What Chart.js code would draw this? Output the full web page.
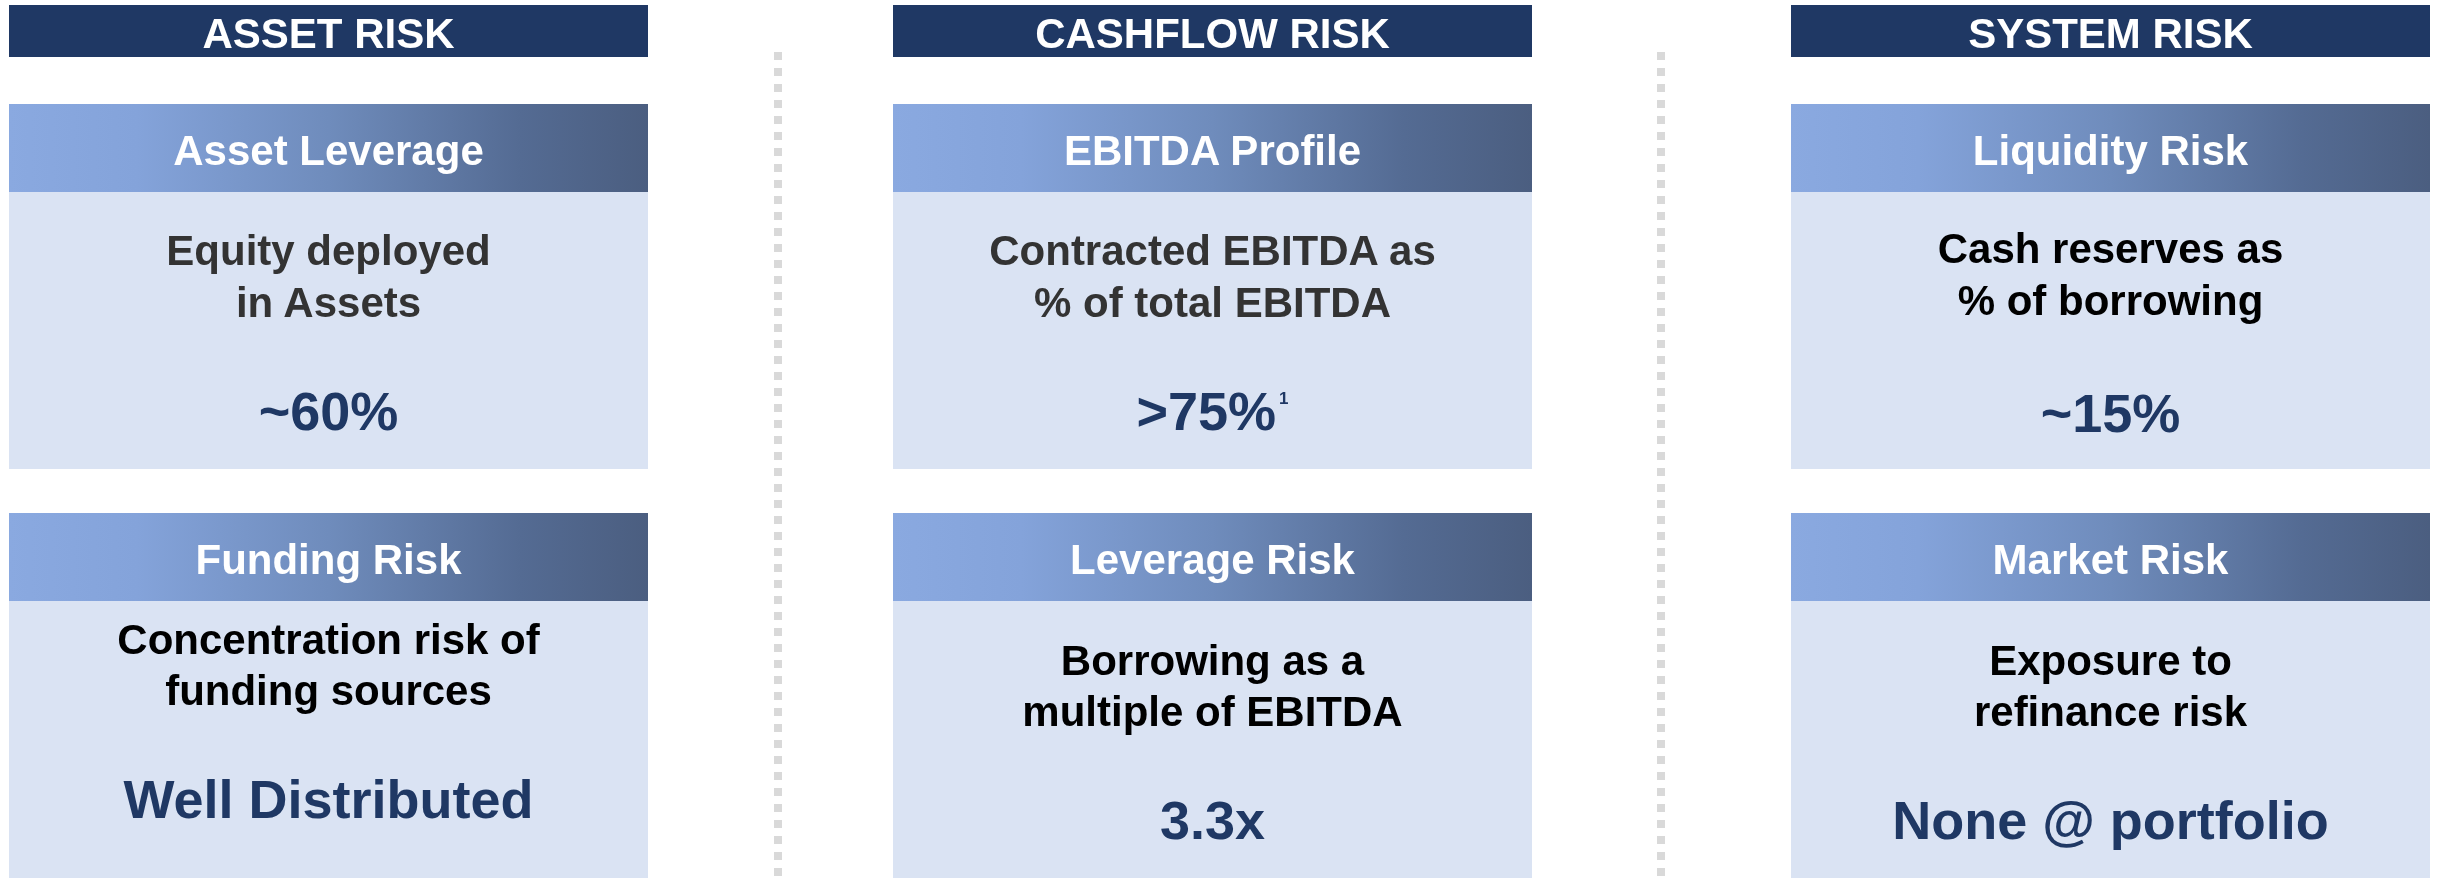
<!DOCTYPE html>
<html>
<head>
<meta charset="utf-8">
<script src="https://cdn.jsdelivr.net/npm/chart.js@4.4.1/dist/chart.umd.min.js"></script>
<style>
  html, body { margin: 0; padding: 0; background: #ffffff; overflow: hidden; }
  #wrap { position: relative; width: 2440px; height: 878px; }
  #c { position: absolute; left: 0; top: 0; }
  .t { position: absolute; text-align: center; white-space: nowrap;
       font-family: "Liberation Sans", Arial, Helvetica, sans-serif; font-weight: bold; }
  .sup { font-size: 17px; font-weight: bold; position: relative; top: -26px; margin-left: 3px; }
</style>
</head>
<body>
<div id="wrap">
  <canvas id="c" width="2440" height="878"></canvas>
</div>
<script>
// ---- content ----
const columns = ['ASSET RISK', 'CASHFLOW RISK', 'SYSTEM RISK'];
const topHeaders = ['Asset Leverage', 'EBITDA Profile', 'Liquidity Risk'];
const topDescriptions = [['Equity deployed', 'in Assets'], ['Contracted EBITDA as', '% of total EBITDA'], ['Cash reserves as', '% of borrowing']];
const topValues = ['~60%', '>75%', '~15%'];
const topNotes = ['', '1', ''];
const bottomHeaders = ['Funding Risk', 'Leverage Risk', 'Market Risk'];
const bottomDescriptions = [['Concentration risk of', 'funding sources'], ['Borrowing as a', 'multiple of EBITDA'], ['Exposure to', 'refinance risk']];
const bottomValues = ['Well Distributed', '3.3x', 'None @ portfolio'];

// ---- layout & style ----
const colLeft = [9, 893, 1791];
const colWidth = 639;
const titleBox = [5, 57];
const header1Box = [104, 192];
const body1Box = [192, 469];
const header2Box = [513, 601];
const body2Box = [601, 878];
const separatorX = [778, 1661];
const navy = '#1f3864';
const bodyFill = '#dae3f3';

const titleBase = 49;
const header1Base = 166;
const header2Base = 575;
const topDescBase = [[266, 318], [266, 318], [264, 316]];
const topValBase = [430, 430, 432];
const botDescBase = [[655, 706], [676, 727], [676, 727]];
const botValBase = [818, 839, 839];
const topDescColor = ['#333333', '#333333', '#000000'];

const panelPlugin = {
  id: 'panels',
  beforeDraw(chart) {
    const ctx = chart.ctx;
    ctx.save();
    ctx.fillStyle = '#ffffff';
    ctx.fillRect(0, 0, chart.width, chart.height);
    // dotted separators
    ctx.strokeStyle = '#d9d9d9';
    ctx.lineWidth = 8;
    ctx.setLineDash([8, 8]);
    separatorX.forEach(x => {
      ctx.beginPath();
      ctx.moveTo(x, 52);
      ctx.lineTo(x, 878);
      ctx.stroke();
    });
    ctx.setLineDash([]);
    columns.forEach((c, i) => {
      const x = colLeft[i];
      ctx.fillStyle = navy;
      ctx.fillRect(x, titleBox[0], colWidth, titleBox[1] - titleBox[0]);
      [header1Box, header2Box].forEach(b => {
        const g = ctx.createLinearGradient(x, 0, x + colWidth, 0);
        g.addColorStop(0, '#8aa9e0');
        g.addColorStop(0.2, '#84a3da');
        g.addColorStop(0.5, '#6f8cbc');
        g.addColorStop(0.8, '#546b93');
        g.addColorStop(1, '#4b5e80');
        ctx.fillStyle = g;
        ctx.fillRect(x, b[0], colWidth, b[1] - b[0]);
      });
      ctx.fillStyle = bodyFill;
      [body1Box, body2Box].forEach(b => ctx.fillRect(x, b[0], colWidth, b[1] - b[0]));
    });
    ctx.restore();
  }
};

new Chart(document.getElementById('c'), {
  type: 'bar',
  data: { labels: columns, datasets: [] },
  options: {
    responsive: false,
    devicePixelRatio: 1,
    animation: false,
    layout: { padding: 0 },
    plugins: { legend: { display: false }, tooltip: { enabled: false }, title: { display: false } },
    scales: { x: { display: false }, y: { display: false } }
  },
  plugins: [panelPlugin]
});

// ---- text as real text ----
const wrap = document.getElementById('wrap');
function addText(i, baseline, fs, color, text, note) {
  const d = document.createElement('div');
  d.className = 't';
  d.style.left = colLeft[i] + 'px';
  d.style.width = colWidth + 'px';
  d.style.fontSize = fs + 'px';
  d.style.lineHeight = fs + 'px';
  d.style.top = (baseline - 0.8465 * fs) + 'px';
  d.style.color = color;
  d.textContent = text;
  if (note) {
    const s = document.createElement('span');
    s.className = 'sup';
    s.textContent = note;
    d.appendChild(s);
  }
  wrap.appendChild(d);
}
columns.forEach((c, i) => {
  addText(i, titleBase, 42, '#ffffff', c);
  addText(i, header1Base, 42, '#ffffff', topHeaders[i]);
  addText(i, header2Base, 42, '#ffffff', bottomHeaders[i]);
  topDescriptions[i].forEach((line, k) => addText(i, topDescBase[i][k], 42, topDescColor[i], line));
  addText(i, topValBase[i], 54, navy, topValues[i], topNotes[i]);
  bottomDescriptions[i].forEach((line, k) => addText(i, botDescBase[i][k], 42, '#000000', line));
  addText(i, botValBase[i], 54, navy, bottomValues[i]);
});
</script>
</body>
</html>
